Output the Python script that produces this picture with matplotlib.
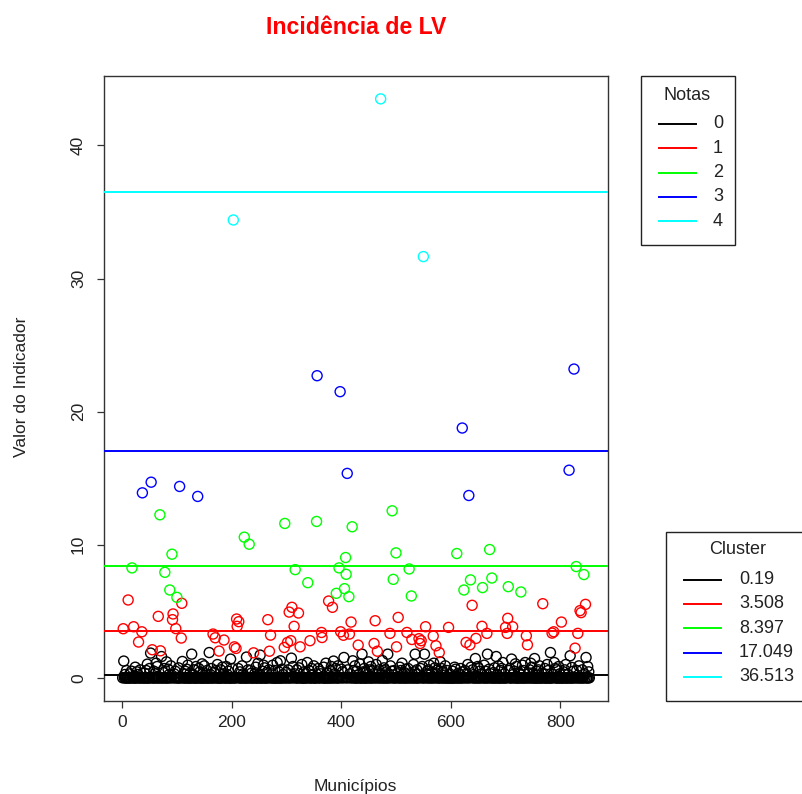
import numpy as np
import matplotlib
matplotlib.use("Agg")
import matplotlib.pyplot as plt
from matplotlib.lines import Line2D
from matplotlib.patches import Rectangle

plt.rcParams['font.family'] = ['Liberation Sans', 'DejaVu Sans']

# numero de municipios (indices 1..N)
n_municipios = 853

# pontos por cluster: (indice do municipio, valor do indicador)
nota4 = [(203, 34.4), (472, 43.5), (550, 31.65)]

nota3 = [(37, 13.9), (53, 14.7), (105, 14.38), (138, 13.63), (356, 22.7),
         (398, 21.5), (411, 15.36), (621, 18.77), (633, 13.7), (816, 15.6),
         (825, 23.2)]

nota2 = [(18, 8.26), (69, 12.25), (78, 7.93), (87, 6.6), (91, 9.29), (100, 6.05),
         (223, 10.57), (232, 10.04), (297, 11.6), (316, 8.13), (339, 7.15),
         (355, 11.75), (391, 6.35), (396, 8.26), (406, 6.7), (408, 9.04),
         (409, 7.78), (414, 6.1), (420, 11.35), (493, 12.55), (495, 7.4),
         (500, 9.39), (524, 8.18), (528, 6.15), (611, 9.34), (624, 6.6),
         (636, 7.36), (658, 6.78), (671, 9.64), (675, 7.5), (705, 6.85),
         (728, 6.45), (829, 8.36), (843, 7.76)]

nota1 = [(2, 3.69), (11, 5.85), (21, 3.84), (30, 2.69), (36, 3.46), (55, 2.11),
         (66, 4.62), (70, 2.03), (92, 4.37), (93, 4.8), (98, 3.7), (108, 2.99),
         (109, 5.6), (166, 3.29), (170, 3.01), (177, 2.01), (186, 2.84),
         (205, 2.33), (208, 2.21), (209, 4.42), (210, 3.87), (213, 4.22),
         (240, 1.88), (266, 4.37), (269, 2.0), (271, 3.21), (296, 2.28),
         (302, 2.66), (305, 4.94), (308, 2.79), (310, 5.3), (314, 3.87),
         (322, 4.87), (325, 2.33), (343, 2.79), (364, 3.41), (365, 3.03),
         (377, 5.77), (384, 5.3), (399, 3.46), (404, 3.2), (415, 3.29),
         (418, 4.19), (431, 2.46), (460, 2.58), (462, 4.29), (466, 2.0),
         (489, 3.34), (501, 2.33), (504, 4.54), (520, 3.41), (529, 2.88),
         (542, 2.94), (544, 2.58), (546, 2.79), (554, 3.84), (568, 3.14),
         (573, 2.41), (579, 1.9), (596, 3.79), (628, 2.66), (635, 2.48),
         (639, 5.45), (646, 2.96), (657, 3.87), (666, 3.34), (700, 3.79),
         (703, 3.34), (704, 4.47), (713, 3.84), (738, 3.16), (740, 2.48),
         (768, 5.57), (785, 3.36), (788, 3.46), (802, 4.19), (827, 2.23),
         (832, 3.34), (836, 5.05), (838, 4.9), (846, 5.52)]

# cluster 0: valores pequenos acima de zero (o resto dos municipios fica em 0)
nota0 = [(3, 1.26), (8, 0.55), (14, 0.3), (24, 0.8), (27, 0.45), (33, 0.6),
         (41, 0.35), (46, 1.03), (50, 0.7), (52, 1.86), (58, 0.5), (62, 1.1),
         (64, 0.85), (72, 1.6), (75, 0.4), (81, 1.2), (84, 0.65), (89, 0.9),
         (95, 0.3), (103, 0.75), (110, 1.23), (115, 0.5), (120, 0.95),
         (124, 0.35), (127, 1.78), (131, 0.6), (135, 0.85), (142, 0.45),
         (146, 1.05), (150, 0.9), (155, 0.55), (159, 1.9), (163, 0.7),
         (168, 0.4), (174, 1.0), (180, 0.6), (185, 0.3), (190, 0.85),
         (194, 0.5), (198, 1.41), (201, 0.7), (215, 0.45), (219, 0.9),
         (227, 1.56), (230, 0.6), (236, 0.35), (244, 0.8), (248, 1.1),
         (252, 1.71), (256, 0.5), (260, 0.75), (264, 0.4), (275, 0.95),
         (279, 0.55), (283, 1.15), (289, 1.28), (292, 0.65), (300, 0.4),
         (309, 1.48), (312, 0.85), (319, 0.6), (328, 1.0), (332, 0.45),
         (338, 1.15), (346, 0.7), (350, 0.9), (360, 0.5), (368, 0.8),
         (372, 1.1), (380, 0.55), (386, 1.26), (390, 0.7), (394, 0.9),
         (402, 0.45), (405, 1.53), (412, 0.6), (421, 1.28), (425, 0.9),
         (428, 0.5), (434, 1.05), (438, 1.78), (442, 0.7), (446, 0.4),
         (450, 1.2), (454, 0.85), (457, 0.55), (464, 1.0), (469, 0.6),
         (475, 1.3), (478, 0.75), (482, 0.45), (485, 1.78), (490, 0.9),
         (497, 0.55), (507, 0.8), (511, 1.1), (515, 0.4), (518, 0.65),
         (532, 1.0), (535, 1.78), (538, 0.6), (548, 0.85), (552, 1.78),
         (557, 0.5), (561, 0.95), (565, 0.4), (571, 0.75), (576, 0.6),
         (581, 1.2), (585, 0.45), (590, 0.9), (603, 0.5), (607, 0.8),
         (614, 0.35), (618, 0.7), (626, 0.55), (631, 1.0), (640, 0.6),
         (645, 1.45), (649, 0.85), (653, 0.5), (661, 0.95), (667, 1.78),
         (670, 0.65), (678, 0.4), (683, 1.6), (687, 0.9), (691, 0.55),
         (695, 1.15), (708, 0.7), (711, 1.41), (716, 0.5), (720, 0.85),
         (724, 0.4), (731, 0.95), (736, 1.15), (744, 0.6), (748, 0.8),
         (753, 1.45), (757, 0.5), (762, 0.9), (766, 0.35), (772, 0.7),
         (776, 1.0), (782, 1.9), (789, 1.15), (793, 0.6), (797, 0.85),
         (806, 0.45), (810, 1.0), (818, 1.66), (821, 0.78), (824, 0.5),
         (834, 0.9), (840, 0.6), (847, 1.53), (850, 0.85),
         # mais pontos pequenos na faixa densa
         (5, 0.25), (17, 0.5), (29, 0.25), (44, 0.55), (60, 0.3), (77, 0.7),
         (86, 0.25), (97, 0.5), (113, 0.3), (118, 0.65), (129, 0.25),
         (140, 0.7), (152, 0.3), (161, 0.25), (171, 0.55), (183, 0.8),
         (192, 0.25), (212, 0.7), (221, 0.3), (234, 0.55), (242, 0.3),
         (250, 0.25), (258, 0.95), (268, 0.6), (273, 0.3), (286, 0.45),
         (294, 0.25), (303, 0.6), (315, 0.3), (323, 0.75), (335, 0.3),
         (341, 0.55), (348, 0.25), (358, 0.7), (363, 0.3), (375, 0.35),
         (382, 0.85), (388, 0.3), (400, 0.65), (416, 0.3), (423, 0.55),
         (432, 0.25), (440, 0.45), (448, 0.25), (452, 0.6), (459, 0.3),
         (467, 0.45), (473, 0.25), (480, 0.6), (487, 0.3), (492, 0.5),
         (503, 0.3), (509, 0.55), (513, 0.25), (522, 0.7), (526, 0.3),
         (534, 0.45), (540, 0.25), (545, 0.7), (555, 0.3), (559, 0.6),
         (563, 0.25), (569, 1.1), (574, 0.3), (583, 0.7), (588, 0.3),
         (593, 0.55), (600, 0.25), (609, 0.65), (616, 0.25), (623, 0.45),
         (629, 0.3), (637, 0.8), (642, 0.25), (651, 0.7), (656, 0.3),
         (663, 0.5), (673, 0.3), (680, 0.75), (685, 0.25), (693, 0.7),
         (698, 0.3), (706, 0.55), (714, 0.25), (718, 1.05), (726, 0.3),
         (733, 0.55), (742, 0.3), (746, 1.1), (750, 0.3), (760, 0.6),
         (770, 0.3), (778, 0.55), (787, 0.25), (791, 0.7), (799, 0.3),
         (808, 0.6), (814, 0.25), (830, 0.55), (844, 0.3), (852, 0.45)]

centros = [0.19, 3.508, 8.397, 17.049, 36.513]
notas = ['0', '1', '2', '3', '4']
cores = ['black', '#FF0000', '#00FF00', '#0000FF', '#00FFFF']

# monta vetores completos
x = np.arange(1, n_municipios + 1)
y = np.zeros(n_municipios)
grupo = np.zeros(n_municipios, dtype=int)
for g, lista in enumerate([nota0, nota1, nota2, nota3, nota4]):
    for i, v in lista:
        y[i - 1] = v
        grupo[i - 1] = g

W, H = 802, 794
fig = plt.figure(figsize=(W / 100, H / 100), dpi=100)


def fx(px):
    return px / W


def fy(py):
    return 1 - py / H


ax = fig.add_axes([fx(104), fy(701), fx(608) - fx(104), fy(75.7) - fy(701)])

for g in range(5):
    m = grupo == g
    ax.scatter(x[m], y[m], s=52, facecolors='none', edgecolors=cores[g],
               linewidths=1.0, zorder=2)

for c, col in zip(centros, cores):
    ax.axhline(c, color=col, lw=1.4, zorder=3)

# limites como no R (4% de folga)
dx = 0.04 * (x.max() - x.min())
dy = 0.04 * (y.max() - y.min())
ax.set_xlim(x.min() - dx, x.max() + dx)
ax.set_ylim(y.min() - dy, y.max() + dy)

ax.set_xticks([0, 200, 400, 600, 800])
ax.set_yticks([0, 10, 20, 30, 40])
ax.tick_params(labelsize=12.5, length=5, width=0.9, color='#333333',
               labelcolor='#222222')
ax.tick_params(axis='x', pad=5)
ax.tick_params(axis='y', pad=8)
for lab in ax.get_yticklabels():
    lab.set_rotation(90)
    lab.set_va('center')
for sp in ax.spines.values():
    sp.set_linewidth(1.0)
    sp.set_color('#333333')

fig.text(fx(356), fy(27), 'Incidência de LV', color='red', fontsize=16.7,
         fontweight='bold', ha='center', va='center')
fig.text(fx(355), fy(786), 'Municípios', fontsize=12.5, ha='center',
         va='center', color='#222222')
fig.text(fx(22), fy(387), 'Valor do Indicador', fontsize=12.5, ha='center',
         va='center', rotation=90, color='#222222')


def legenda(left, top, right, bottom, titulo, tx, ty, ys, lx0, lx1, labx, rotulos):
    fig.patches.append(Rectangle((fx(left), fy(bottom)), fx(right) - fx(left),
                                 fy(top) - fy(bottom), transform=fig.transFigure,
                                 fill=False, edgecolor='#222222', lw=1.0))
    fig.text(fx(tx), fy(ty), titulo, fontsize=13, ha='center', va='center',
             color='#222222')
    for yy, col, r in zip(ys, cores, rotulos):
        fig.lines.append(Line2D([fx(lx0), fx(lx1)], [fy(yy), fy(yy)],
                                transform=fig.transFigure, color=col, lw=1.4))
        fig.text(fx(labx), fy(yy), r, fontsize=13, ha='left', va='center',
                 color='#222222')


legenda(641, 75.7, 735, 245, 'Notas', 687, 95,
        [124, 148.3, 172.7, 196.7, 221.3], 659, 696, 713, notas)
legenda(666, 531.7, 812, 701, 'Cluster', 738, 550,
        [580, 604, 628.3, 652.7, 676.7], 684, 721, 739,
        [str(c) for c in centros])

fig.savefig('out.png', dpi=100)
